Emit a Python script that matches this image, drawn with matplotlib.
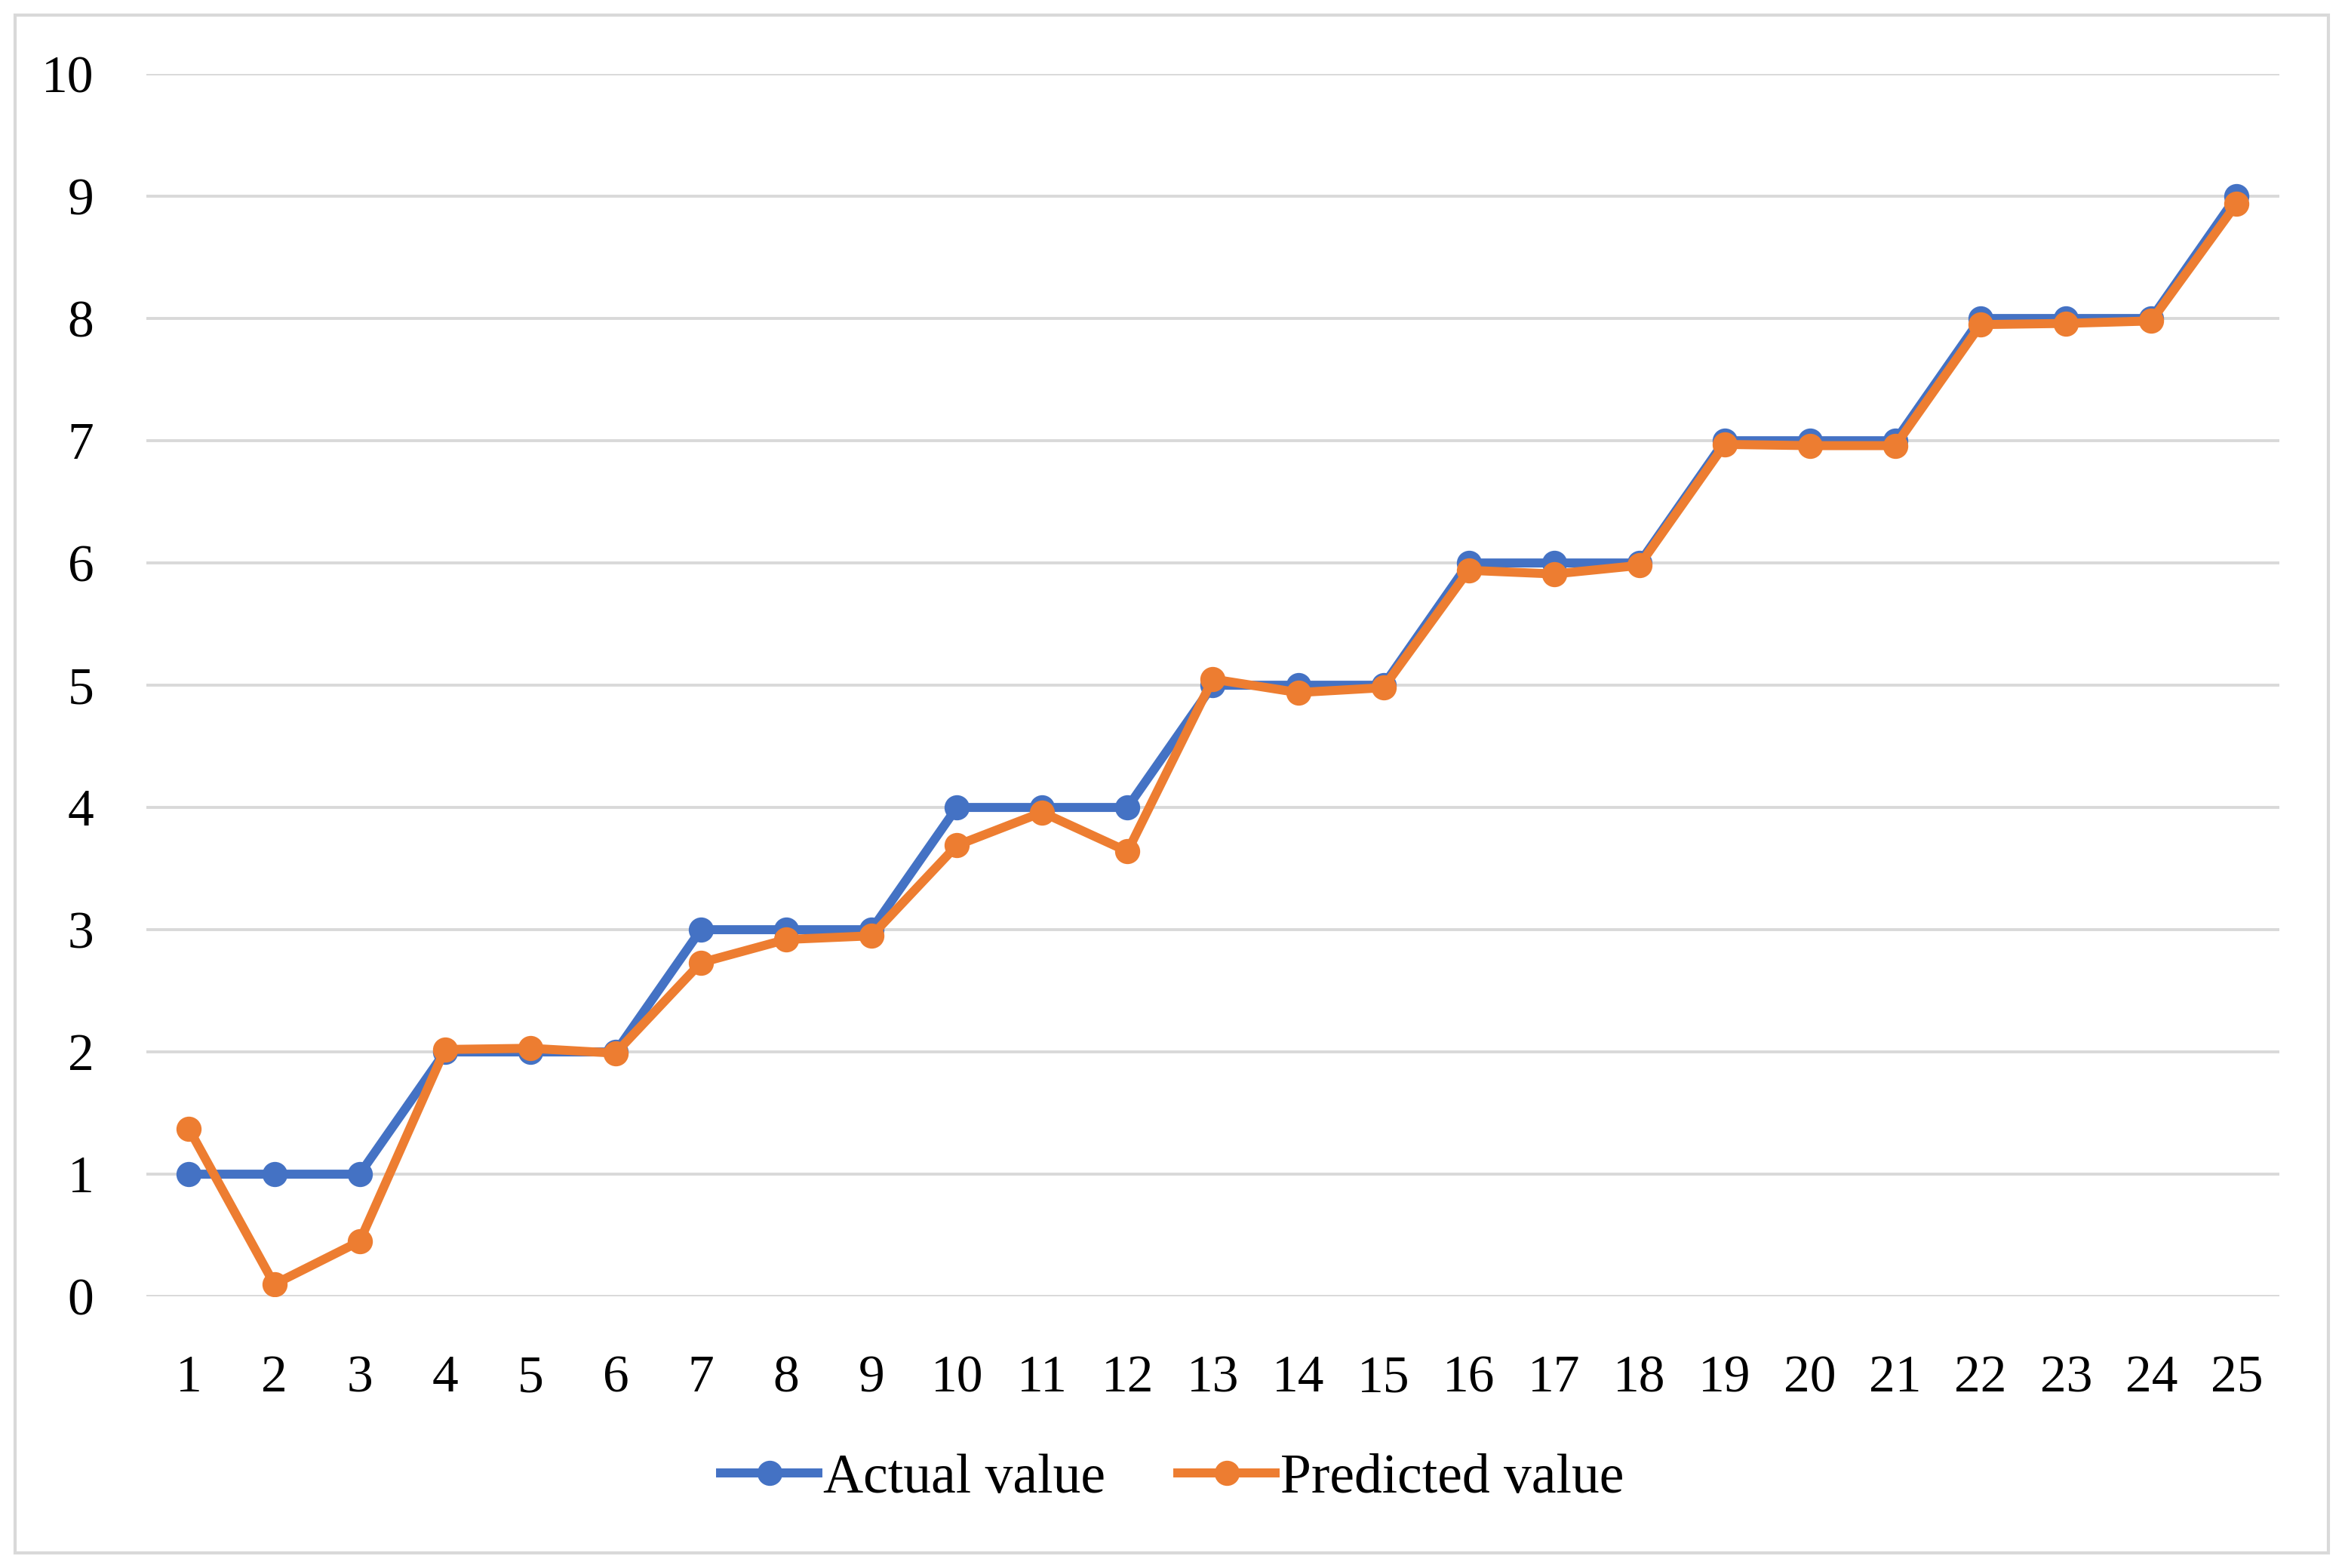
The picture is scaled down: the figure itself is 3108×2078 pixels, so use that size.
import matplotlib.pyplot as plt
from matplotlib.patches import Rectangle

# data
samples = list(range(1, 26))
actual = [1, 1, 1, 2, 2, 2, 3, 3, 3, 4, 4, 4, 5, 5, 5, 6, 6, 6, 7, 7, 7, 8, 8, 8, 9]
predicted = [1.37, 0.10, 0.45, 2.02, 2.03, 1.99, 2.73, 2.92, 2.95, 3.69, 3.96, 3.64,
             5.05, 4.94, 4.98, 5.94, 5.91, 5.98, 6.97, 6.96, 6.96, 7.95, 7.96, 7.98, 8.94]
y_ticks = list(range(0, 11))

BLUE = "#4472C4"
ORANGE = "#ED7D31"
GRID = "#D9D9D9"

plt.rcParams['font.family'] = ['Liberation Serif', 'DejaVu Serif']

fig = plt.figure(figsize=(15.54, 10.39), dpi=200)
fig.patches.append(Rectangle((20 / 3108, 20 / 2078), 3066 / 3108, 2038 / 2078,
                             transform=fig.transFigure, fill=False,
                             edgecolor=GRID, linewidth=1.5))

ax = fig.add_axes([0.0624, 0.1732, 0.9096, 0.7796])
ax.plot(samples, actual, color=BLUE, linewidth=4.3, marker='o', markersize=11,
        label="Actual value", zorder=3)
ax.plot(samples, predicted, color=ORANGE, linewidth=4.3, marker='o', markersize=11,
        label="Predicted value", zorder=4)

ax.set_xlim(0.5, 25.5)
ax.set_ylim(0, 10)
ax.set_xticks(samples)
ax.set_yticks(y_ticks)
ax.grid(axis='y', color=GRID, linewidth=1.4)
ax.set_axisbelow(True)
for s in ax.spines.values():
    s.set_visible(False)
ax.tick_params(axis='both', length=0, labelsize=25, colors='#000000')
ax.tick_params(axis='y', pad=25)
ax.tick_params(axis='x', pad=28)

fig.legend(loc='center', bbox_to_anchor=(0.5, 1 - 1960 / 2078), ncol=2, frameon=False,
           fontsize=26.5, handlelength=1.75, handletextpad=0.1, columnspacing=1.3)

fig.savefig("out.png", dpi=200)
